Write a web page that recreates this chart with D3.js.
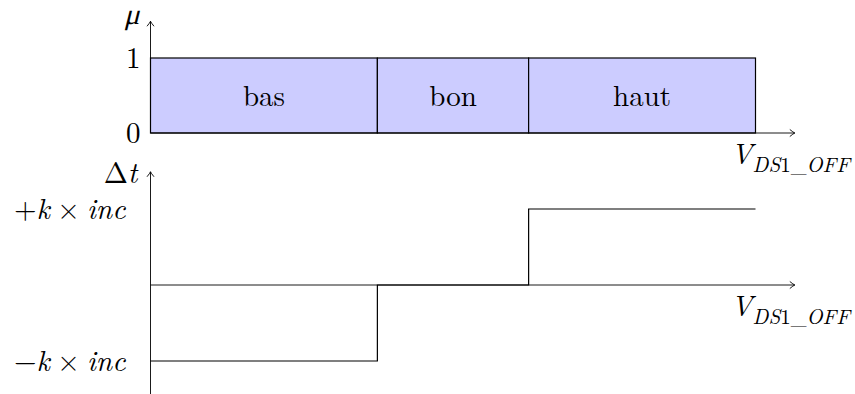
<!DOCTYPE html>
<html>
<head>
<meta charset="utf-8">
<script src="https://cdn.jsdelivr.net/npm/d3@7"></script>
<style>
  body { margin: 0; background: #fff; }
</style>
</head>
<body>
<div class="canvas"></div>
<script>
'use strict';

// membership classes on V_DS1_OFF
const categories = ['bas', 'bon', 'haut'];
const bounds = [0, 3, 5, 8];
const membership = [1, 1, 1];

// Δt response for each class
const steps = [-1, 0, 1];

const muTicks = [0, 1];
const dtTicks = [{ v: 1, sign: '+' }, { v: -1, sign: '\u2212' }];

const dimensions = { width: 855, height: 394 };
const serif = '"Latin Modern Roman", "Liberation Serif", serif';
const fs = 29;

const svg = d3.select('.canvas')
    .append('svg')
    .attr('width', dimensions.width)
    .attr('height', dimensions.height);

const x = d3.scaleLinear().domain([0, 8]).range([150.5, 755.5]);
const yTop = d3.scaleLinear().domain([0, 1]).range([133, 58]);
const yBot = d3.scaleLinear().domain([-1, 1]).range([361, 209]);

const arrowRight = (px, py) =>
    `M${px - 5},${py - 3.5} Q${px - 1.5},${py - 0.6} ${px},${py} Q${px - 1.5},${py + 0.6} ${px - 5},${py + 3.5}`;
const arrowUp = (px, py) =>
    `M${px - 3.5},${py + 5} Q${px - 0.6},${py + 1.5} ${px},${py} Q${px + 0.6},${py + 1.5} ${px + 3.5},${py + 5}`;

// ---------- top panel ----------
const topPanel = svg.append('g');

const boxes = categories.map((c, i) => ({ name: c, x0: bounds[i], x1: bounds[i + 1], v: membership[i] }));

topPanel.selectAll('rect')
    .data(boxes)
    .enter().append('rect')
    .attr('x', d => x(d.x0))
    .attr('y', d => yTop(d.v))
    .attr('width', d => x(d.x1) - x(d.x0))
    .attr('height', d => yTop(0) - yTop(d.v))
    .attr('fill', '#ccccff')
    .attr('stroke', '#000')
    .attr('stroke-width', 1.2);

topPanel.selectAll('text.cat')
    .data(boxes)
    .enter().append('text')
    .attr('class', 'cat')
    .attr('x', d => x((d.x0 + d.x1) / 2))
    .attr('y', d => yTop(d.v / 2) + 10.5)
    .attr('text-anchor', 'middle')
    .attr('font-size', fs)
    .text(d => d.name);

// axes
topPanel.append('line')
    .attr('x1', x(0)).attr('x2', x(8.52))
    .attr('y1', yTop(0)).attr('y2', yTop(0))
    .attr('stroke', '#000').attr('stroke-width', 0.9);
topPanel.append('line')
    .attr('x1', x(0)).attr('x2', x(0))
    .attr('y1', yTop(0)).attr('y2', yTop(1.49))
    .attr('stroke', '#000').attr('stroke-width', 0.9);
topPanel.append('path').attr('d', arrowRight(x(8.52), yTop(0)))
    .attr('fill', 'none').attr('stroke', '#000').attr('stroke-width', 0.9);
topPanel.append('path').attr('d', arrowUp(x(0), yTop(1.49)))
    .attr('fill', 'none').attr('stroke', '#000').attr('stroke-width', 0.9);

topPanel.selectAll('text.tick')
    .data(muTicks)
    .enter().append('text')
    .attr('class', 'tick')
    .attr('x', x(0) - 10)
    .attr('y', d => yTop(d) + 10)
    .attr('text-anchor', 'end')
    .attr('font-size', fs)
    .text(d => d);

// μ, slanted by hand to look like math italic
topPanel.append('text')
    .attr('transform', `translate(${x(0) - 11},${yTop(1.49) + 3}) skewX(-14)`)
    .attr('text-anchor', 'end')
    .attr('font-size', fs)
    .text('\u03bc');

// ---------- bottom panel ----------
const botPanel = svg.append('g');

botPanel.append('line')
    .attr('x1', x(0)).attr('x2', x(8.52))
    .attr('y1', yBot(0)).attr('y2', yBot(0))
    .attr('stroke', '#000').attr('stroke-width', 0.9);
botPanel.append('line')
    .attr('x1', x(0)).attr('x2', x(0))
    .attr('y1', yBot(-1.5)).attr('y2', yBot(1.49))
    .attr('stroke', '#000').attr('stroke-width', 0.9);
botPanel.append('path').attr('d', arrowRight(x(8.52), yBot(0)))
    .attr('fill', 'none').attr('stroke', '#000').attr('stroke-width', 0.9);
botPanel.append('path').attr('d', arrowUp(x(0), yBot(1.49)))
    .attr('fill', 'none').attr('stroke', '#000').attr('stroke-width', 0.9);

const stepPts = [];
steps.forEach((s, i) => {
    stepPts.push([bounds[i], s]);
    stepPts.push([bounds[i + 1], s]);
});

const line = d3.line()
    .x(d => x(d[0]))
    .y(d => yBot(d[1]));

botPanel.append('path')
    .datum(stepPts)
    .attr('d', line)
    .attr('fill', 'none')
    .attr('stroke', '#000')
    .attr('stroke-width', 1.2);

const tickLab = botPanel.selectAll('text.tick')
    .data(dtTicks)
    .enter().append('text')
    .attr('class', 'tick')
    .attr('x', x(0) - 25)
    .attr('y', d => yBot(d.v) + 10)
    .attr('text-anchor', 'end')
    .attr('font-size', fs);
tickLab.append('tspan').text(d => d.sign);
tickLab.append('tspan').attr('font-style', 'italic').text('k');
tickLab.append('tspan').text('\u2005\u00d7\u2005');
tickLab.append('tspan').attr('font-style', 'italic').text('inc');

const dtLab = botPanel.append('text')
    .attr('x', x(0) - 13)
    .attr('y', yBot(1.49) + 11)
    .attr('text-anchor', 'end')
    .attr('font-size', fs);
dtLab.append('tspan').text('\u0394');
dtLab.append('tspan').attr('font-style', 'italic').text('t');

// ---------- V_DS1_OFF labels ----------
[yTop(0), yBot(0)].forEach(yy => {
    const t = svg.append('text')
        .attr('x', 850)
        .attr('y', yy + 30.5)
        .attr('text-anchor', 'end')
        .attr('font-size', fs);
    t.append('tspan').attr('font-style', 'italic').text('V');
    t.append('tspan').attr('font-size', 21).attr('dy', 8).attr('font-style', 'italic').text('DS');
    t.append('tspan').attr('font-size', 21).text('1_');
    t.append('tspan').attr('font-size', 21).attr('font-style', 'italic').text('OFF');
});

// inline style so nothing overrides the face
svg.selectAll('text').style('font-family', serif).attr('fill', '#000');
</script>
</body>
</html>
